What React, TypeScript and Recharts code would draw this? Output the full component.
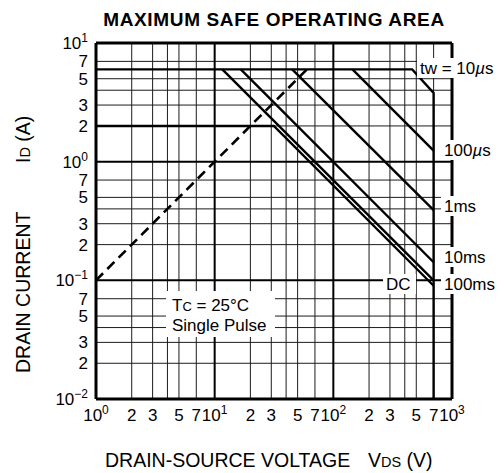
import { LineChart, Line, XAxis, YAxis, ReferenceLine } from 'recharts'

const FONT = '"Liberation Sans", Arial, Helvetica, sans-serif'

// corner points of each limit, V_DS in volts, I_D in amps
const pulse10us = [{ v: 1, i: 6 }, { v: 462, i: 6 }, { v: 700, i: 3.8 }, { v: 700, i: 0.01 }]
const pulse100us = [{ v: 145, i: 6 }, { v: 700, i: 1.24 }]
const pulse1ms = [{ v: 45, i: 6 }, { v: 700, i: 0.39 }]
const pulse10ms = [{ v: 16.6, i: 6 }, { v: 700, i: 0.142 }]
const pulse100ms = [{ v: 11.6, i: 6 }, { v: 700, i: 0.1 }]
const dcLimit = [{ v: 1, i: 2 }, { v: 31.5, i: 2 }, { v: 700, i: 0.09 }]
const rdsOnLimit = [{ v: 1, i: 0.1 }, { v: 60, i: 6 }]

const X_TICKS = [1, 2, 3, 4, 5, 7, 10, 20, 30, 40, 50, 70, 100, 200, 300, 400, 500, 700, 1000]
const Y_TICKS = [0.01, 0.02, 0.03, 0.04, 0.05, 0.07, 0.1, 0.2, 0.3, 0.4, 0.5, 0.7, 1, 2, 3, 4, 5, 7, 10]
const X_DECADES = [1, 10, 100, 1000]
const Y_DECADES = [0.01, 0.1, 1, 10]

const isDecade = (v: number) => {
  const e = Math.round(Math.log10(v))
  return Math.abs(v / Math.pow(10, e) - 1) < 1e-6
}

// "10" + exponent for decades, leading digit otherwise (4 has no label)
function tickParts(v: number) {
  if (isDecade(v)) {
    const e = Math.round(Math.log10(v))
    return { base: '10', exp: e < 0 ? '\u2212' + -e : String(e) }
  }
  const m = Math.round(v / Math.pow(10, Math.floor(Math.log10(v) + 1e-9)))
  return { base: m === 4 ? '' : String(m), exp: '' }
}

const XTick = ({ x, y, payload }: any) => {
  const { base, exp } = tickParts(payload.value)
  if (!base) return null
  return (
    <text x={x} y={y + 22} textAnchor="middle" fontSize={17} fontFamily={FONT} fill="#000">
      {base}
      {exp && <tspan dy={-7} fontSize={12}>{exp}</tspan>}
    </text>
  )
}

const YTick = ({ x, y, payload }: any) => {
  const { base, exp } = tickParts(payload.value)
  if (!base) return null
  return (
    <text x={x - 8} y={y + 6} textAnchor="end" fontSize={17} fontFamily={FONT} fill="#000">
      {base}
      {exp && <tspan dy={-7} fontSize={12}>{exp}</tspan>}
    </text>
  )
}

const series = [pulse10us, pulse100us, pulse1ms, pulse10ms, pulse100ms, dcLimit]

const RightLabel = ({ x, y, w, children }: any) => (
  <g>
    <rect x={x - 3} y={y - 16} width={w} height={20} fill="#fff" />
    <text x={x} y={y} fontSize={17} fontFamily={FONT} fill="#000">{children}</text>
  </g>
)

export default function App() {
  return (
    <div style={{ position: 'absolute', left: 0, top: 0, width: 504, height: 473, background: '#fff' }}>
      <LineChart
        width={504}
        height={473}
        margin={{ top: 43, right: 52, bottom: 44, left: 36 }}
      >
        <XAxis
          dataKey="v"
          type="number"
          scale="log"
          domain={[1, 1000]}
          allowDataOverflow
          ticks={X_TICKS}
          interval={0}
          tick={<XTick />}
          tickSize={0}
          tickMargin={0}
          axisLine={false}
          height={30}
        />
        <YAxis
          dataKey="i"
          type="number"
          scale="log"
          domain={[0.01, 10]}
          allowDataOverflow
          ticks={Y_TICKS}
          interval={0}
          tick={<YTick />}
          tickSize={0}
          tickMargin={0}
          axisLine={false}
          width={60}
        />
        {X_TICKS.filter((v) => !isDecade(v)).map((v) => (
          <ReferenceLine key={'gx' + v} x={v} stroke="#1c1c1c" strokeWidth={1} />
        ))}
        {Y_TICKS.filter((v) => !isDecade(v)).map((v) => (
          <ReferenceLine key={'gy' + v} y={v} stroke="#1c1c1c" strokeWidth={1} />
        ))}
        {X_DECADES.map((v, k) => (
          <ReferenceLine key={'dx' + v} x={v} stroke="#000" strokeWidth={k === 0 || k === 3 ? 3 : 2} />
        ))}
        {Y_DECADES.map((v, k) => (
          <ReferenceLine key={'dy' + v} y={v} stroke="#000" strokeWidth={k === 0 || k === 3 ? 3 : 2} />
        ))}
        {series.map((d, k) => (
          <Line
            key={k}
            data={d}
            dataKey="i"
            type="linear"
            stroke="#000"
            strokeWidth={2.4}
            dot={false}
            isAnimationActive={false}
          />
        ))}
        <Line
          data={rdsOnLimit}
          dataKey="i"
          type="linear"
          stroke="#000"
          strokeWidth={2.6}
          strokeDasharray="10 6"
          dot={false}
          isAnimationActive={false}
        />
      </LineChart>

      <svg
        width={504}
        height={473}
        style={{ position: 'absolute', left: 0, top: 0, pointerEvents: 'none' }}
        fontFamily={FONT}
      >
        <text x={274} y={26} textAnchor="middle" fontSize={19} fontWeight="bold" letterSpacing={0.65}>
          MAXIMUM SAFE OPERATING AREA
        </text>

        <text x={105} y={467} fontSize={19.5}>
          DRAIN-SOURCE VOLTAGE
          <tspan x={368}>V</tspan>
          <tspan fontSize={14.5}>DS</tspan>
          <tspan> (V)</tspan>
        </text>

        <text transform="translate(30,373) rotate(-90)" fontSize={19.5}>
          DRAIN CURRENT
          <tspan x={210}>I</tspan>
          <tspan fontSize={14.5}>D</tspan>
          <tspan> (A)</tspan>
        </text>

        <rect x={166} y={291} width={109} height={46} fill="#fff" />
        <text x={172} y={311} fontSize={17}>
          T<tspan fontSize={13}>C</tspan> = 25°C
        </text>
        <text x={172} y={331} fontSize={17}>Single Pulse</text>

        <RightLabel x={420} y={74} w={87}>
          tw = 10<tspan fontStyle="italic">µ</tspan>s
        </RightLabel>
        <RightLabel x={444} y={156} w={62}>
          100<tspan fontStyle="italic">µ</tspan>s
        </RightLabel>
        <RightLabel x={444} y={212} w={62}>1ms</RightLabel>
        <RightLabel x={444} y={263} w={62}>10ms</RightLabel>
        <RightLabel x={444} y={290} w={62}>100ms</RightLabel>
        <RightLabel x={386} y={290} w={33}>DC</RightLabel>
      </svg>
    </div>
  )
}
